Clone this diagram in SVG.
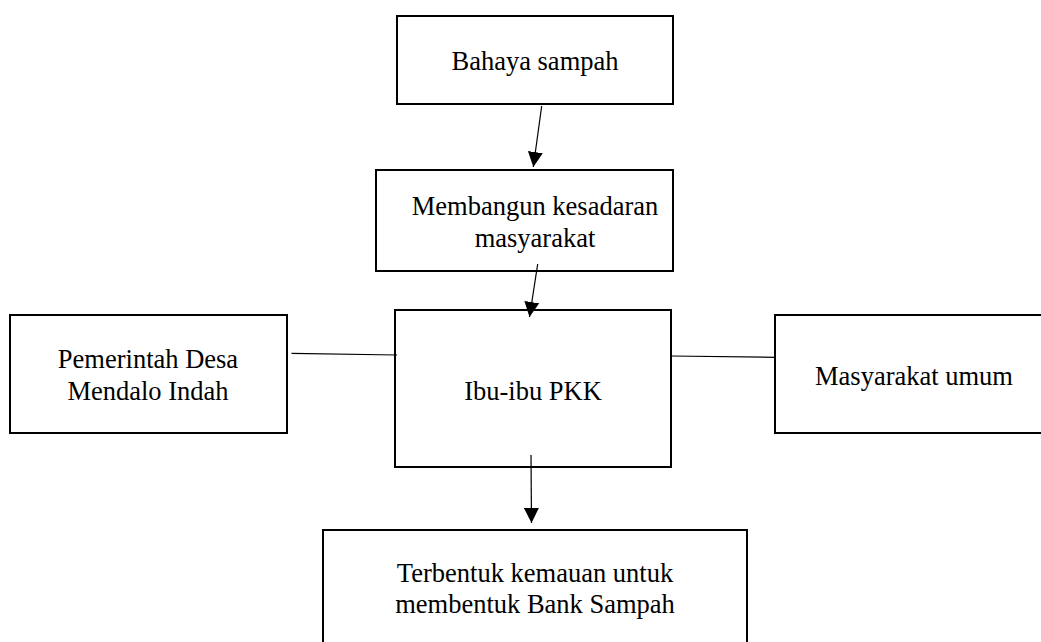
<svg xmlns="http://www.w3.org/2000/svg" width="1041" height="642" viewBox="0 0 1041 642">
  <style>
    .box { fill: #ffffff; stroke: #000000; stroke-width: 2; }
    .lbl { font-family: "Liberation Serif", "Times New Roman", serif; font-size: 26.5px; fill: #000000; text-anchor: middle; }
    .conn { stroke: #000000; stroke-width: 1.2; fill: none; }
  </style>
  <defs>
    <marker id="arrow" markerUnits="userSpaceOnUse" markerWidth="15" markerHeight="15" refX="15" refY="7.5" orient="auto">
      <path d="M0,0 L15,7.5 L0,15 Z" fill="#000000"/>
    </marker>
  </defs>
  <rect width="1041" height="642" fill="#ffffff"/>

  <g id="node-bahaya">
    <rect class="box" x="397" y="16" width="276" height="88"/>
    <text class="lbl" x="535" y="70">Bahaya sampah</text>
  </g>

  <g id="node-membangun">
    <rect class="box" x="376" y="170" width="297" height="101"/>
    <text class="lbl" x="535" y="215">Membangun kesadaran</text>
    <text class="lbl" x="535" y="247">masyarakat</text>
  </g>

  <g id="node-pkk">
    <rect class="box" x="395" y="310" width="276" height="157"/>
    <text class="lbl" x="533" y="400">Ibu-ibu PKK</text>
  </g>

  <g id="node-pemerintah">
    <rect class="box" x="10" y="315" width="277" height="118"/>
    <text class="lbl" x="148" y="368">Pemerintah Desa</text>
    <text class="lbl" x="148" y="400">Mendalo Indah</text>
  </g>

  <g id="node-masyarakat">
    <rect class="box" x="775" y="315" width="280" height="118"/>
    <text class="lbl" x="914" y="385">Masyarakat umum</text>
  </g>

  <g id="node-terbentuk">
    <rect class="box" x="323" y="530" width="424" height="130"/>
    <text class="lbl" x="535" y="582">Terbentuk kemauan untuk</text>
    <text class="lbl" x="535" y="613">membentuk Bank Sampah</text>
  </g>

  <g id="connectors">
    <line class="conn" x1="541.7" y1="106" x2="533.3" y2="167" marker-end="url(#arrow)"/>
    <line class="conn" x1="537.7" y1="264" x2="529.5" y2="317" marker-end="url(#arrow)"/>
    <line class="conn" x1="531" y1="455" x2="531.5" y2="523" marker-end="url(#arrow)"/>
    <line class="conn" x1="291.5" y1="353.3" x2="397" y2="355"/>
    <line class="conn" x1="670.7" y1="356" x2="775" y2="357.3"/>
  </g>
</svg>
